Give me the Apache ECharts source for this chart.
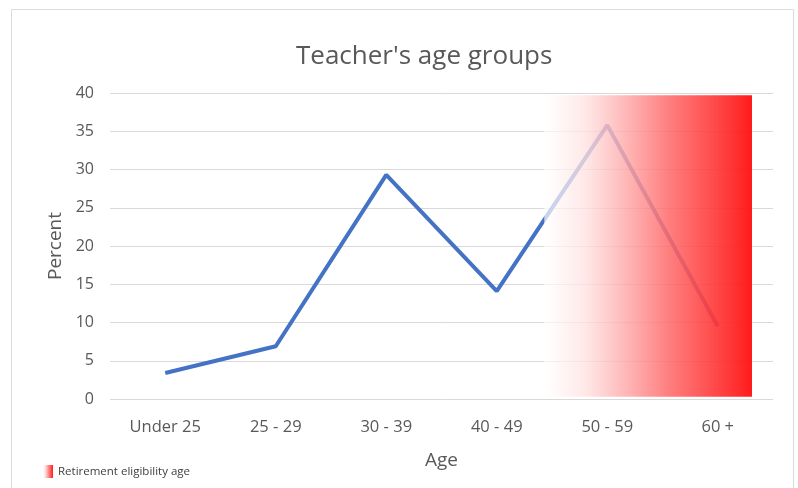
<!DOCTYPE html>
<html>
<head>
<meta charset="utf-8">
<script src="https://cdn.jsdelivr.net/npm/echarts@6/dist/echarts.min.js"></script>
<style>
  html, body { margin: 0; padding: 0; background: #fff; }
  #chart { width: 798px; height: 488px; }
</style>
</head>
<body>
<div id="chart"></div>
<script>
const categories = ['Under 25', '25 - 29', '30 - 39', '40 - 49', '50 - 59', '60 +']
const percent = [3.4, 6.9, 29.3, 14.1, 35.8, 9.5]
const yTicks = { min: 0, max: 40, interval: 5 }
// retirement band, in category-index units on x and percent on y
const bandX = [3.43, 5.31]
const bandY = [0.3, 39.7]
const bandName = 'Retirement eligibility age'

const font = '"Open Sans", sans-serif'
const grey = '#595959'

const bandColor = new echarts.graphic.LinearGradient(0, 0, 1, 0, [
  { offset: 0, color: 'rgba(255,255,255,0.7)' },
  { offset: 0.2, color: 'rgba(255,225,225,0.78)' },
  { offset: 0.6, color: 'rgba(255,105,105,0.86)' },
  { offset: 1, color: 'rgba(255,15,15,0.95)' },
])

const chart = echarts.init(document.getElementById('chart'))
chart.setOption({
  animation: false,
  textStyle: { fontFamily: font },
  title: {
    text: "Teacher's age groups",
    left: 291,
    top: 39,
    textStyle: { fontSize: 26, fontWeight: 'normal', color: grey, fontFamily: font },
  },
  graphic: [
    {
      type: 'rect',
      shape: { x: 11.5, y: 9.5, width: 782, height: 490 },
      style: { fill: 'none', stroke: '#dcdcdc', lineWidth: 1 },
      silent: true,
    },
  ],
  legend: {
    left: 38,
    top: 460,
    itemWidth: 10,
    itemHeight: 13,
    itemGap: 7,
    textStyle: { fontSize: 11.5, color: '#404040', fontFamily: font },
    data: [{ name: bandName, icon: 'rect', itemStyle: { color: bandColor } }],
  },
  grid: { left: 110, right: 25, top: 93, bottom: 89 },
  xAxis: [
    {
      type: 'category',
      data: categories,
      name: 'Age',
      nameLocation: 'middle',
      nameGap: 52,
      nameTextStyle: { fontSize: 19, color: grey },
      axisLine: { show: false },
      axisTick: { show: false },
      axisLabel: { fontSize: 16.5, color: grey, margin: 20 },
    },
    { type: 'value', min: -0.5, max: 5.5, show: false },
  ],
  yAxis: {
    type: 'value',
    min: yTicks.min,
    max: yTicks.max,
    interval: yTicks.interval,
    name: 'Percent',
    nameLocation: 'middle',
    nameGap: 44,
    nameTextStyle: { fontSize: 19, color: grey },
    axisLine: { show: false },
    axisTick: { show: false },
    axisLabel: { fontSize: 16, color: grey, margin: 16 },
    splitLine: { lineStyle: { color: '#d9d9d9', width: 1 } },
  },
  series: [
    {
      name: 'Percent',
      type: 'line',
      data: percent,
      showSymbol: false,
      lineStyle: { color: '#4472c4', width: 4 },
      itemStyle: { color: '#4472c4' },
      z: 2,
    },
    {
      name: bandName,
      type: 'line',
      xAxisIndex: 1,
      data: [],
      z: 10,
      itemStyle: { color: bandColor },
      markArea: {
        silent: true,
        z: 20,
        itemStyle: { color: bandColor },
        data: [[{ coord: [bandX[0], bandY[1]] }, { coord: [bandX[1], bandY[0]] }]],
      },
    },
  ],
})
</script>
</body>
</html>
